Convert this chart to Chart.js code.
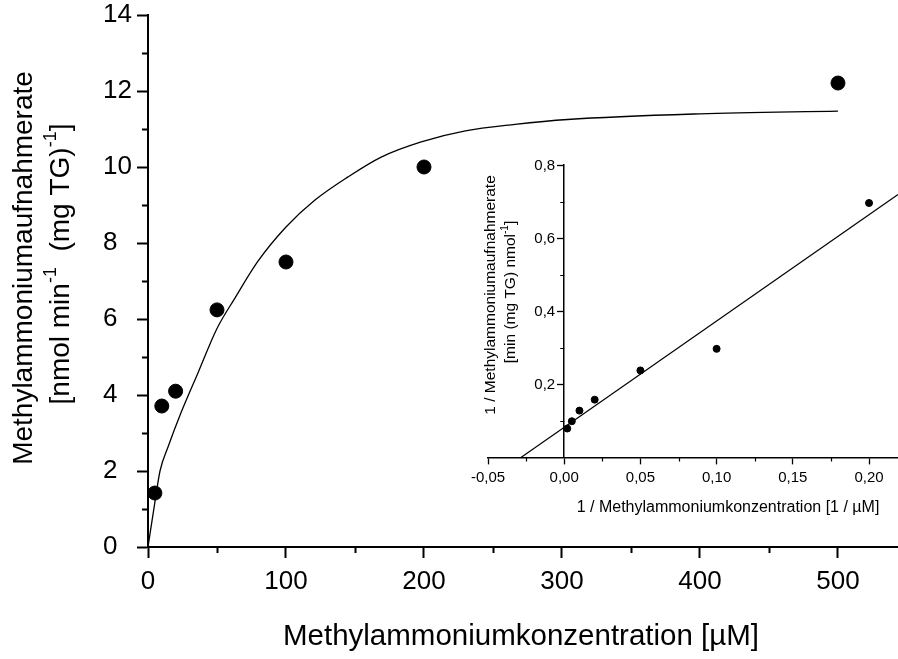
<!DOCTYPE html>
<html>
<head>
<meta charset="utf-8">
<script src="https://cdn.jsdelivr.net/npm/chart.js@4.4.0/dist/chart.umd.min.js"></script>
<style>
  html, body { margin: 0; padding: 0; background: #fff; }
  #wrap { position: relative; width: 898px; height: 659px; }
  #main { position: absolute; left: 0; top: 0; }
  #inset { position: absolute; left: 440px; top: 140px; }
</style>
</head>
<body>
<div id="wrap">
  <canvas id="main" width="898" height="659"></canvas>
  <canvas id="inset" width="458" height="390"></canvas>
</div>
<script>
// main plot: uptake rate vs. concentration
const concentrations = [5, 10, 20, 50, 100, 200, 500];
const uptakeRates = [1.42, 3.71, 4.1, 6.24, 7.5, 10.0, 12.21];
// fitted curve
const fitX = [0, 5, 8.7, 14.5, 23.9, 36.2, 50, 63, 79.7, 100, 121, 145, 169, 198, 230, 266, 304, 400, 500];
const fitY = [0, 1.18, 2.0, 2.63, 3.53, 4.58, 5.75, 6.55, 7.52, 8.42, 9.13, 9.74, 10.26, 10.66, 10.95, 11.12, 11.25, 11.40, 11.47];
const xTicks = [0, 100, 200, 300, 400, 500];
const xTickLabels = ["0", "100", "200", "300", "400", "500"];
const xMinor = [50, 150, 250, 350, 450];
const yTicks = [0, 2, 4, 6, 8, 10, 12, 14];
const yTickLabels = ["0", "2", "4", "6", "8", "10", "12", "14"];
const yMinor = [1, 3, 5, 7, 9, 11, 13];

// inset: Lineweaver-Burk
const inverseConc = [0.002, 0.005, 0.01, 0.02, 0.05, 0.1, 0.2];
const inverseRates = [0.079, 0.099, 0.128, 0.158, 0.238, 0.297, 0.696];
const regressionX = [-0.0284, 0.219];
const regressionY = [0, 0.719];
const insetXTicks = [-0.05, 0, 0.05, 0.1, 0.15, 0.2];
const insetXTickLabels = ["-0,05", "0,00", "0,05", "0,10", "0,15", "0,20"];
const insetXMinor = [-0.025, 0.025, 0.075, 0.125, 0.175];
const insetYTicks = [0.2, 0.4, 0.6, 0.8];
const insetYTickLabels = ["0,2", "0,4", "0,6", "0,8"];
const insetYMinor = [0.1, 0.3, 0.5, 0.7];

const family = "'Liberation Sans', Arial, Helvetica, sans-serif";

function toPoints(xs, ys) {
    return xs.map((x, i) => ({ x: x, y: ys[i] }));
}

// text with superscripts, centred on x,y
function drawRich(ctx, parts, x, y, size, rotate) {
    ctx.save();
    ctx.translate(x, y);
    if (rotate) ctx.rotate(-Math.PI / 2);
    ctx.fillStyle = "#000";
    ctx.textBaseline = "middle";
    ctx.textAlign = "left";
    const supSize = Math.round(size * 0.66);
    let total = 0;
    parts.forEach(p => {
        ctx.font = (p.sup ? supSize : size) + "px " + family;
        p.w = ctx.measureText(p.t).width;
        total += p.w;
    });
    let cx = -total / 2;
    parts.forEach(p => {
        ctx.font = (p.sup ? supSize : size) + "px " + family;
        ctx.fillText(p.t, cx, p.sup ? -size * 0.36 : 0);
        cx += p.w;
    });
    ctx.restore();
}

function minorTickPlugin(xVals, yVals, xLen, yLen, width, yAxisAt) {
    return {
        id: "minorTicks",
        afterDraw(chart) {
            const ctx = chart.ctx;
            const xs = chart.scales.x, ys = chart.scales.y;
            const base = ys.getPixelForValue(ys.min);
            const left = xs.getPixelForValue(yAxisAt);
            ctx.save();
            ctx.strokeStyle = "#000";
            ctx.lineWidth = width;
            ctx.beginPath();
            xVals.forEach(v => {
                const px = Math.round(xs.getPixelForValue(v)) + 0.5;
                ctx.moveTo(px, base);
                ctx.lineTo(px, base + xLen);
            });
            yVals.forEach(v => {
                const py = Math.round(ys.getPixelForValue(v)) + 0.5;
                ctx.moveTo(left, py);
                ctx.lineTo(left - yLen, py);
            });
            ctx.stroke();
            ctx.restore();
        }
    };
}

// no side padding from the scales, so the plot area is where we put it
function noPad(s) {
    s.paddingLeft = 0;
    s.paddingRight = 0;
    s.paddingTop = 0;
    s.paddingBottom = 0;
}

const mainTitles = {
    id: "mainTitles",
    afterDraw(chart) {
        const ctx = chart.ctx;
        drawRich(ctx, [{ t: "Methylammoniumkonzentration [µM]" }], 521, 637, 29.5, false);
        drawRich(ctx, [{ t: "Methylammoniumaufnahmerate" }], 24, 268, 28, true);
        drawRich(ctx, [{ t: "[nmol min" }, { t: "-1", sup: true }, { t: "  (mg TG)" }, { t: "-1", sup: true }, { t: "]" }], 61, 264, 28, true);
    }
};

const insetTitles = {
    id: "insetTitles",
    afterDraw(chart) {
        const ctx = chart.ctx;
        const xs = chart.scales.x, ys = chart.scales.y;
        // y tick labels of the inset, left of the axis that sits at x = 0
        const axisX = xs.getPixelForValue(0);
        ctx.save();
        ctx.fillStyle = "#000";
        ctx.font = "15px " + family;
        ctx.textAlign = "right";
        ctx.textBaseline = "middle";
        insetYTicks.forEach((v, i) => {
            ctx.fillText(insetYTickLabels[i], axisX - 9, ys.getPixelForValue(v) + 1);
        });
        ctx.restore();
        drawRich(ctx, [{ t: "1 / Methylammoniumkonzentration [1 / µM]" }], 288, 368, 16, false);
        drawRich(ctx, [{ t: "1 / Methylammoniumaufnahmerate" }], 51, 155, 15.5, true);
        drawRich(ctx, [{ t: "[min (mg TG) nmol" }, { t: "-1", sup: true }, { t: "]" }], 71, 152, 15.5, true);
    }
};

new Chart(document.getElementById("main"), {
    type: "scatter",
    data: {
        datasets: [{
            data: toPoints(concentrations, uptakeRates),
            pointRadius: 7,
            pointHoverRadius: 7,
            backgroundColor: "#000",
            borderColor: "#000",
            clip: false
        }, {
            data: toPoints(fitX, fitY),
            showLine: true,
            pointRadius: 0,
            borderColor: "#000",
            borderWidth: 1.3,
            cubicInterpolationMode: "monotone",
            fill: false
        }]
    },
    options: {
        responsive: false,
        animation: false,
        events: [],
        layout: { autoPadding: false, padding: { left: 103, top: 15, right: 0, bottom: 62 } },
        plugins: { legend: { display: false }, tooltip: { enabled: false } },
        scales: {
            x: {
                type: "linear",
                min: 0,
                max: 543.5,
                afterBuildTicks: s => { s.ticks = xTicks.map(v => ({ value: v })); },
                afterFit: s => { s.height = 50; noPad(s); },
                grid: { drawOnChartArea: false, drawTicks: true, tickLength: 11, tickWidth: 2, tickColor: "#000" },
                border: { display: true, color: "#000", width: 2 },
                ticks: {
                    color: "#000", font: { family: family, size: 26 }, padding: 8,
                    maxRotation: 0, autoSkip: false,
                    callback: (v, i) => xTickLabels[i]
                }
            },
            y: {
                type: "linear",
                min: 0,
                max: 14,
                afterBuildTicks: s => { s.ticks = yTicks.map(v => ({ value: v })); },
                afterFit: s => { s.width = 45; noPad(s); },
                grid: { drawOnChartArea: false, drawTicks: true, tickLength: 11, tickWidth: 2, tickColor: "#000" },
                border: { display: true, color: "#000", width: 2 },
                ticks: {
                    color: "#000", font: { family: family, size: 26 }, crossAlign: "far",
                    autoSkip: false,
                    callback: (v, i) => yTickLabels[i]
                }
            }
        }
    },
    plugins: [minorTickPlugin(xMinor, yMinor, 6, 6, 2, 0), mainTitles]
});

new Chart(document.getElementById("inset"), {
    type: "scatter",
    data: {
        datasets: [{
            data: toPoints(inverseConc, inverseRates),
            pointRadius: 3.5,
            pointHoverRadius: 3.5,
            backgroundColor: "#000",
            borderColor: "#000",
            clip: false
        }, {
            data: toPoints(regressionX, regressionY),
            showLine: true,
            pointRadius: 0,
            borderColor: "#000",
            borderWidth: 1.2,
            fill: false
        }]
    },
    options: {
        responsive: false,
        animation: false,
        events: [],
        layout: { autoPadding: false, padding: { left: 48, top: 25, right: 0, bottom: 42.6 } },
        plugins: { legend: { display: false }, tooltip: { enabled: false } },
        scales: {
            x: {
                type: "linear",
                min: -0.05,
                max: 0.219,
                afterBuildTicks: s => { s.ticks = insetXTicks.map(v => ({ value: v })); },
                afterFit: s => { s.height = 30; noPad(s); },
                grid: { drawOnChartArea: false, drawTicks: true, tickLength: 7, tickWidth: 1.3, tickColor: "#000" },
                border: { display: true, color: "#000", width: 1.5 },
                ticks: {
                    color: "#000", font: { family: family, size: 15 }, padding: 4,
                    maxRotation: 0, autoSkip: false,
                    callback: (v, i) => insetXTickLabels[i]
                }
            },
            y: {
                type: "linear",
                min: 0,
                max: 0.8,
                position: { x: 0 },
                afterBuildTicks: s => { s.ticks = insetYTicks.map(v => ({ value: v })); },
                afterFit: s => { noPad(s); },
                grid: { drawOnChartArea: false, drawTicks: true, tickLength: 6, tickWidth: 1.3, tickColor: "#000" },
                border: { display: true, color: "#000", width: 1.5 },
                ticks: { display: false }
            }
        }
    },
    plugins: [minorTickPlugin(insetXMinor, insetYMinor, 4, 4, 1.2, 0), insetTitles]
});
</script>
</body>
</html>
